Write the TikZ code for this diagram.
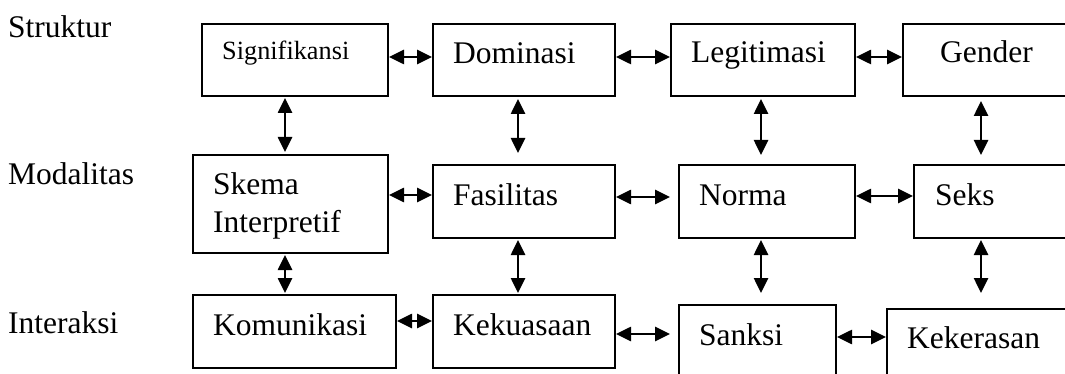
\documentclass[tikz,border=0pt]{standalone}
\usepackage{fontspec}
\setmainfont{Liberation Serif}
\usetikzlibrary{arrows.meta,calc}
\begin{document}
\begin{tikzpicture}[x=1pt,y=-1pt,
  boxnode/.style={draw,line width=2pt,rectangle,inner sep=0pt,anchor=north west},
  txt/.style={anchor=base west,inner sep=0pt,font=\fontsize{31.5}{36}\selectfont},
  smalltxt/.style={anchor=base west,inner sep=0pt,font=\fontsize{26.3}{30}\selectfont},
  biarrow/.style={line width=2.6pt,{Triangle[length=15pt,width=14pt]}-{Triangle[length=15pt,width=14pt]}}]
\useasboundingbox (0,0) rectangle (1065,374);
\clip (0,0) rectangle (1065,374);
% row labels
\node[txt] (lstruk) at (8,38) {Struktur};
\node[txt] (lmodal) at (8,185) {Modalitas};
\node[txt] (linter) at (8,333) {Interaksi};
% boxes
\node[boxnode,minimum width=186pt,minimum height=72pt] (sig) at (201,23) {};
\node[boxnode,minimum width=182pt,minimum height=72pt] (dom) at (432,23) {};
\node[boxnode,minimum width=184pt,minimum height=72pt] (leg) at (670,23) {};
\node[boxnode,minimum width=190pt,minimum height=72pt] (gen) at (902,23) {};
\node[boxnode,minimum width=195pt,minimum height=98pt] (ske) at (192,154) {};
\node[boxnode,minimum width=182pt,minimum height=73pt] (fas) at (432,164) {};
\node[boxnode,minimum width=176pt,minimum height=73pt] (nor) at (678,164) {};
\node[boxnode,minimum width=180pt,minimum height=73pt] (sek) at (913,164) {};
\node[boxnode,minimum width=203pt,minimum height=73pt] (kom) at (192,294) {};
\node[boxnode,minimum width=182pt,minimum height=73pt] (kek) at (432,294) {};
\node[boxnode,minimum width=157pt,minimum height=90pt] (san) at (678,304) {};
\node[boxnode,minimum width=200pt,minimum height=90pt] (ker) at (886,308) {};
% texts
\node[smalltxt] (sigt) at (222,60) {Signifikansi};
\node[txt] (domt) at (453,64) {Dominasi};
\node[txt] (legt) at (691,63) {Legitimasi};
\node[txt] (gent) at (940,63) {Gender};
\node[txt] (sket) at (213,195) {Skema};
\node[txt] (sket2) at (213,232) {Interpretif};
\node[txt] (fast) at (453,206) {Fasilitas};
\node[txt] (nort) at (699,205) {Norma};
\node[txt] (sekt) at (935,205) {Seks};
\node[txt] (komt) at (213,335) {Komunikasi};
\node[txt] (kekt) at (453,335) {Kekuasaan};
\node[txt] (sant) at (699,345) {Sanksi};
\node[txt] (kert) at (907,348) {Kekerasan};
% horizontal connectors
\draw[biarrow] (sig.east |- 0,57) -- (dom.west |- 0,57);
\draw[biarrow] (dom.east |- 0,57) -- (leg.west |- 0,57);
\draw[biarrow] (leg.east |- 0,57) -- (gen.west |- 0,57);
\draw[biarrow] (ske.east |- 0,195) -- (fas.west |- 0,195);
\draw[biarrow,shorten >=8pt] (fas.east |- 0,197) -- (nor.west |- 0,197);
\draw[biarrow] (nor.east |- 0,196) -- (sek.west |- 0,196);
\draw[biarrow] (kom.east |- 0,321) -- (kek.west |- 0,321);
\draw[biarrow,shorten >=8pt] (kek.east |- 0,334) -- (san.west |- 0,334);
\draw[biarrow] (san.east |- 0,337) -- (ker.west |- 0,337);
% vertical connectors
\draw[biarrow,shorten <=1pt,shorten >=2pt] (sig.south -| 285,0) -- (ske.north -| 285,0);
\draw[biarrow,shorten <=1pt,shorten >=1pt] (ske.south -| 285,0) -- (kom.north -| 285,0);
\draw[biarrow,shorten <=2pt,shorten >=11pt] (dom.south -| 518,0) -- (fas.north -| 518,0);
\draw[biarrow,shorten <=1pt,shorten >=1pt] (fas.south -| 518,0) -- (kek.north -| 518,0);
\draw[biarrow,shorten <=2pt,shorten >=9pt] (leg.south -| 761,0) -- (nor.north -| 761,0);
\draw[biarrow,shorten <=1pt,shorten >=11pt] (nor.south -| 761,0) -- (san.north -| 761,0);
\draw[biarrow,shorten <=4pt,shorten >=9pt] (gen.south -| 981,0) -- (sek.north -| 981,0);
\draw[biarrow,shorten <=1pt,shorten >=15pt] (sek.south -| 981,0) -- (ker.north -| 981,0);
\end{tikzpicture}
\end{document}
